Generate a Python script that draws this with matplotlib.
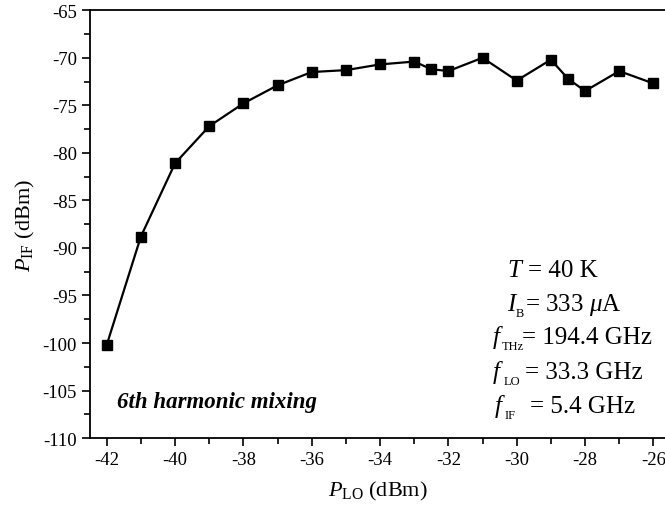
import matplotlib
matplotlib.use('Agg')
import matplotlib.pyplot as plt
from matplotlib.ticker import MultipleLocator
from matplotlib.transforms import offset_copy

plt.rcParams['font.family'] = 'Liberation Serif'
plt.rcParams['mathtext.fontset'] = 'custom'
plt.rcParams['mathtext.rm'] = 'Liberation Serif'
plt.rcParams['mathtext.it'] = 'Liberation Serif:italic'
plt.rcParams['axes.unicode_minus'] = False

# LO power (dBm) and IF output power (dBm)
p_lo = [-42, -41, -40, -39, -38, -37, -36, -35, -34, -33, -32.5, -32,
        -31, -30, -29, -28.5, -28, -27, -26]
p_if = [-100.2, -88.8, -81.1, -77.2, -74.8, -72.9, -71.5, -71.3, -70.7,
        -70.4, -71.2, -71.4, -70.0, -72.4, -70.2, -72.2, -73.5, -71.4, -72.7]

# measurement conditions: symbol, subscript, value
sym = ['T', 'I', 'f', 'f', 'f']
sub = ['', 'B', 'THz', 'LO', 'IF']
val = ['= 40 K', r'= 333 $\mu$A', '= 194.4 GHz', '= 33.3 GHz', '= 5.4 GHz']

fig = plt.figure(figsize=(6.65, 5.1), dpi=100)
ax = fig.add_axes([0.1353, 0.139, 0.8647, 0.839])

ax.plot(p_lo, p_if, color='black', linewidth=1.6, marker='s', markersize=6.5)

ax.set_xlim(-42.49, -25.66)
ax.set_ylim(-110, -65)
ax.xaxis.set_major_locator(MultipleLocator(2))
ax.xaxis.set_minor_locator(MultipleLocator(1))
ax.yaxis.set_major_locator(MultipleLocator(5))
ax.yaxis.set_minor_locator(MultipleLocator(2.5))
ax.tick_params(which='major', direction='out', length=6, width=1.2, labelsize=13.5)
ax.tick_params(which='minor', direction='out', length=4, width=1.2)
ax.spines['right'].set_visible(False)
for s in ['left', 'top', 'bottom']:
    ax.spines[s].set_linewidth(1.3)

ax.set_xlabel(r'$P_{\rm LO}$ (dBm)', fontsize=16, labelpad=8)
ax.set_ylabel(r'$P_{\rm IF}$ (dBm)', fontsize=16, labelpad=4)

ax.text(-41.7, -106.2, '6th harmonic mixing', fontsize=16.5, fontweight='bold',
        fontstyle='italic', va='center', ha='left')

# pixel offsets of symbol / subscript / value within each row
x0 = -30.72
rows_y = [-93.0, -96.5, -100.0, -103.7, -107.3]
sym_dx = [15, 15, 1, 1, 3]
sub_dx = [0, 24, 10, 12, 12]
val_dx = [36, 33, 30, 33, 38]


def at(dx, dy=0):
    return offset_copy(ax.transData, fig=fig, x=dx, y=dy, units='dots')


for i in range(len(sym)):
    ax.text(x0, rows_y[i], sym[i], fontsize=18, fontstyle='italic',
            va='baseline', ha='left', transform=at(sym_dx[i]))
    if sub[i]:
        ax.text(x0, rows_y[i], sub[i], fontsize=9,
                va='baseline', ha='left', transform=at(sub_dx[i], -6))
    ax.text(x0, rows_y[i], val[i], fontsize=18,
            va='baseline', ha='left', transform=at(val_dx[i]))

fig.savefig('out.png', dpi=100)
